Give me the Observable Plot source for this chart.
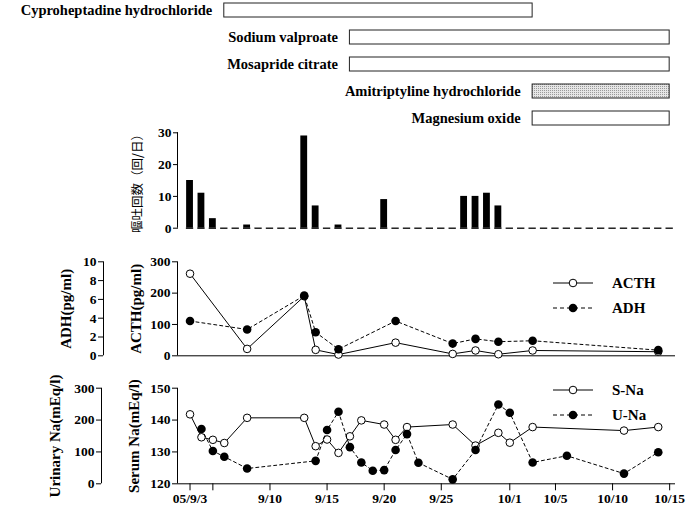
<!DOCTYPE html>
<html><head><meta charset="utf-8">
<script src="https://cdn.jsdelivr.net/npm/d3@7"></script>
<script src="https://cdn.jsdelivr.net/npm/@observablehq/plot@0.6"></script>
<style>
body{margin:0;background:#fff;}
#chart{position:relative;width:688px;height:513px;overflow:hidden;font-family:"Liberation Serif",serif;font-weight:bold;color:#000;}
#chart > svg, #chart > div.leg {position:absolute;}
div.leg{display:flex;align-items:center;font-size:15px;line-height:1;white-space:nowrap;}
div.leg svg{margin-right:19px;}
</style></head><body><div id="chart"></div>
<script>
// ---------- data ----------
const drugNames  = ["Cyproheptadine hydrochloride","Sodium valproate","Mosapride citrate","Amitriptyline hydrochloride","Magnesium oxide"];
const drugStarts = ["2005-09-06","2005-09-17","2005-09-17","2005-10-03","2005-10-03"];
const drugEnds   = ["2005-10-03","2005-10-15","2005-10-15","2005-10-15","2005-10-15"];
const drugShaded = [false,false,false,true,false];

const vomitFirstDay = "2005-09-03", vomitLastDay = "2005-10-15";
const vomitCounts = [15,11,3,0,0,1,0,0,0,0,29,7,0,1,0,0,0,9,0,0,0,0,0,0,10,10,11,7,
                     0,0,0,0,0,0,0,0,0,0,0,0,0,0,0];

const hormDates = ["2005-09-03","2005-09-08","2005-09-13","2005-09-14","2005-09-16","2005-09-21","2005-09-26","2005-09-28","2005-09-30","2005-10-03","2005-10-14"];
const acthValues = [262,22,190,19,4,42,6,17,5,17,13];
const adhValues  = [3.7,2.8,6.4,2.5,0.7,3.7,1.3,1.8,1.5,1.6,0.6];

const sNaDates = ["2005-09-03","2005-09-04","2005-09-05","2005-09-06","2005-09-08","2005-09-13","2005-09-14","2005-09-15","2005-09-16","2005-09-17","2005-09-18","2005-09-20","2005-09-21","2005-09-22","2005-09-26","2005-09-28","2005-09-30","2005-10-01","2005-10-03","2005-10-11","2005-10-14"];
const sNaValues = [141.8,134.6,133.8,132.8,140.7,140.7,131.8,133.9,129.7,134.9,139.9,138.6,133.8,137.8,138.6,132,136,132.9,137.8,136.7,137.8];

const uNaDates = ["2005-09-04","2005-09-05","2005-09-06","2005-09-08","2005-09-14","2005-09-15","2005-09-16","2005-09-17","2005-09-18","2005-09-19","2005-09-20","2005-09-21","2005-09-22","2005-09-23","2005-09-26","2005-09-28","2005-09-30","2005-10-01","2005-10-03","2005-10-06","2005-10-11","2005-10-14"];
const uNaValues = [172,103,85,48,72,169,226,115,67,41,43,106,156,66,14,106,249,223,67,88,32,99];

const xDomainStart = "2005-09-01T21:40Z", xDomainEnd = "2005-10-15T12:15Z";
const xTickDates  = ["2005-09-03","2005-09-05","2005-09-10","2005-09-15","2005-09-20","2005-09-25","2005-10-01","2005-10-05","2005-10-10","2005-10-15"];
const xTickLabels = ["05/9/3","","9/10","9/15","9/20","9/25","10/1","10/5","10/10","10/15"];

// ---------- tables ----------
const H = 3600e3;
const drugs = drugNames.map((name,i)=>({name,start:new Date(drugStarts[i]),end:new Date(drugEnds[i]),shaded:drugShaded[i]}));
const vomitDays = d3.utcDay.range(new Date(vomitFirstDay), d3.utcDay.offset(new Date(vomitLastDay),1));
const vomit = vomitDays.map((date,i)=>({date,count:vomitCounts[i]}));
const horm = hormDates.map((d,i)=>({date:new Date(d),acth:acthValues[i],adh:adhValues[i]}));
const sNa = sNaDates.map((d,i)=>({date:new Date(d),v:sNaValues[i]}));
const uNa = uNaDates.map((d,i)=>({date:new Date(d),v:uNaValues[i]}));
const xd0 = new Date(xDomainStart), xd1 = new Date(xDomainEnd);
const tickMap = new Map(xTickDates.map((d,i)=>[+new Date(d),xTickLabels[i]]));

const chart = document.getElementById("chart");
const FONT = "'Liberation Serif', 'Times New Roman', serif";
const baseStyle = {fontFamily:FONT,fontWeight:"bold",fontSize:"13.5px",background:"transparent",overflow:"visible",color:"#000"};
const W = 688, ML = 177, MR = 13;
function place(svg, top, left=0){ svg.style.top = top+"px"; svg.style.left = left+"px"; chart.appendChild(svg); return svg; }
const xOpt = {type:"utc",domain:[xd0,xd1],axis:null};
const title = (t,dx,extra={}) => Plot.text([t],{frameAnchor:"left",textAnchor:"middle",lineAnchor:"middle",rotate:-90,dx,fontSize:15,fontWeight:"bold",...extra});

// ---------- drugs ----------
const drugSvg = place(Plot.plot({
  width:W,height:130,marginLeft:ML,marginRight:MR,marginTop:2.75,marginBottom:4.6,
  style:baseStyle,
  x:xOpt,
  y:{type:"band",domain:drugNames,paddingInner:0.5,paddingOuter:0,axis:null},
  marks:[
    Plot.barX(drugs,{x1:"start",x2:"end",y:"name",fill:d=>d.shaded?"url(#stipple)":"white",stroke:"#222",strokeWidth:1}),
    Plot.text(drugs,{x:"start",y:"name",text:"name",textAnchor:"end",dx:-12,fontSize:14.5,fontWeight:"bold"})
  ]
}),0);
drugSvg.insertAdjacentHTML("afterbegin",
  `<defs><pattern id="stipple" width="2" height="2" patternUnits="userSpaceOnUse"><rect width="2" height="2" fill="#e6e6e6"/><rect width="1" height="1" fill="#9a9a9a"/></pattern></defs>`);

// ---------- vomiting ----------
place(Plot.plot({
  width:W,height:120,marginLeft:ML+1,marginRight:MR,marginTop:12.3,marginBottom:12.3,
  style:baseStyle,
  x:{...xOpt,range:[ML,W-MR]},
  y:{domain:[0,30],ticks:[0,10,20,30],tickSize:5,tickPadding:2,label:null},
  marks:[
    Plot.ruleY(vomit,{x1:d=>new Date(+d.date-7.7*H),x2:d=>new Date(+d.date+7.7*H),y:0,stroke:"#000",strokeWidth:1.3}),
    Plot.rectY(vomit.filter(d=>d.count>0),{x1:d=>new Date(+d.date-12*H),x2:d=>new Date(+d.date+12*H),y:"count",insetLeft:2.3,insetRight:2.3,fill:"#000"}),
    Plot.ruleX([xd0],{y1:0,y2:30,strokeWidth:1}),
    title("嘔吐回数（回/日）",-41,{fontFamily:"'Noto Sans CJK JP', sans-serif",fontSize:12.5,fontWeight:"normal"})
  ]
}),120);

// ---------- ACTH / ADH ----------
const hTop = 250, hH = 112, hMT = 11.3, hMB = 6.7;
place(Plot.plot({
  width:W,height:hH,marginLeft:ML,marginRight:MR,marginTop:hMT,marginBottom:hMB,
  style:baseStyle,
  x:xOpt,
  y:{domain:[0,300],ticks:[0,100,200,300],tickSize:5,tickPadding:2,label:null},
  marks:[
    Plot.ruleY([0],{strokeWidth:1}),
    Plot.ruleX([xd0],{y1:0,y2:300,strokeWidth:1}),
    Plot.line(horm,{x:"date",y:"acth",stroke:"#000",strokeWidth:1}),
    Plot.dot(horm,{x:"date",y:"acth",r:3.8,fill:"white",stroke:"#000",strokeWidth:1}),
    title("ACTH(pg/ml)",-41)
  ]
}),hTop);
place(Plot.plot({
  width:W,height:hH,marginLeft:ML,marginRight:MR,marginTop:hMT,marginBottom:hMB,
  style:baseStyle,
  x:xOpt,
  y:{domain:[0,10],axis:null},
  marks:[
    Plot.line(horm,{x:"date",y:"adh",stroke:"#000",strokeWidth:1,strokeDasharray:"3,3"}),
    Plot.dot(horm,{x:"date",y:"adh",r:4.3,fill:"#000",stroke:"none"})
  ]
}),hTop);
place(Plot.plot({
  width:112,height:hH,marginLeft:103,marginRight:8,marginTop:hMT,marginBottom:hMB,
  style:baseStyle,
  x:{domain:[0,1],axis:null},
  y:{domain:[0,10],ticks:[0,2,4,6,8,10],tickSize:5,tickPadding:2,label:null},
  marks:[
    Plot.ruleX([0],{y1:0,y2:10,strokeWidth:1}),
    title("ADH(pg/ml)",-37)
  ]
}),hTop);

// ---------- Na ----------
const nTop = 375, nH = 138, nMT = 12.7, nMB = 29.7;
place(Plot.plot({
  width:W,height:nH,marginLeft:ML,marginRight:MR,marginTop:nMT,marginBottom:nMB,
  style:baseStyle,
  x:{type:"utc",domain:[xd0,xd1],ticks:xTickDates.map(d=>new Date(d)),tickFormat:d=>tickMap.get(+d) ?? "",tickSize:7,tickPadding:3,label:null,fontSize:14},
  y:{domain:[120,150],ticks:[120,130,140,150],tickSize:5,tickPadding:2,label:null},
  marks:[
    Plot.ruleY([120],{strokeWidth:1}),
    Plot.ruleX([xd0],{y1:120,y2:150,strokeWidth:1}),
    Plot.line(sNa,{x:"date",y:"v",stroke:"#000",strokeWidth:1}),
    Plot.dot(sNa,{x:"date",y:"v",r:3.8,fill:"white",stroke:"#000",strokeWidth:1}),
    title("Serum Na(mEq/l)",-43)
  ]
}),nTop);
place(Plot.plot({
  width:W,height:nH,marginLeft:ML,marginRight:MR,marginTop:nMT,marginBottom:nMB,
  style:baseStyle,
  x:xOpt,
  y:{domain:[0,300],axis:null},
  marks:[
    Plot.line(uNa,{x:"date",y:"v",stroke:"#000",strokeWidth:1,strokeDasharray:"3,3"}),
    Plot.dot(uNa,{x:"date",y:"v",r:4.3,fill:"#000",stroke:"none"})
  ]
}),nTop);
place(Plot.plot({
  width:112,height:nH,marginLeft:101,marginRight:10,marginTop:nMT,marginBottom:nMB,
  style:baseStyle,
  x:{domain:[0,1],axis:null},
  y:{domain:[0,300],ticks:[0,100,200,300],tickSize:5,tickPadding:2,label:null},
  marks:[
    Plot.ruleX([0],{y1:0,y2:300,strokeWidth:1}),
    title("Urinary Na(mEq/l)",-46)
  ]
}),nTop);

// ---------- legends ----------
function legend(label, top, dashed, filled){
  const div = document.createElement("div");
  div.className = "leg";
  div.style.left = "553px"; div.style.top = (top-10)+"px"; div.style.height = "20px";
  const ns = "http://www.w3.org/2000/svg";
  const s = document.createElementNS(ns,"svg");
  s.setAttribute("width","40"); s.setAttribute("height","20");
  s.innerHTML = `<line x1="0" x2="40" y1="10" y2="10" stroke="#000" stroke-width="1" ${dashed?'stroke-dasharray="4,3"':''}/>`+
    `<circle cx="20" cy="10" r="${filled?4.3:3.8}" fill="${filled?'#000':'#fff'}" stroke="#000" stroke-width="${filled?0:1}"/>`;
  div.appendChild(s);
  const t = document.createElement("span"); t.textContent = label; div.appendChild(t);
  chart.appendChild(div);
}
legend("ACTH",283,false,false);
legend("ADH",308,true,true);
legend("S-Na",390,false,false);
legend("U-Na",415,true,true);
</script></body></html>
